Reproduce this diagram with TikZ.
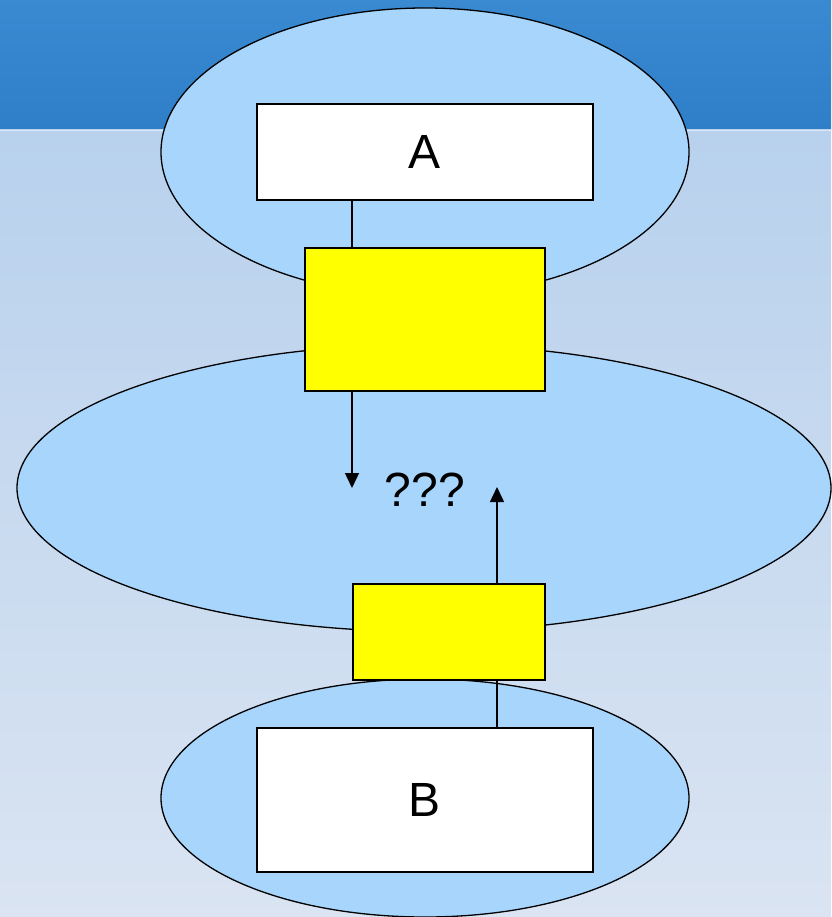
\documentclass[tikz,border=0pt]{standalone}
\usepackage{fontspec}
\setmainfont{Liberation Sans}
\usetikzlibrary{shapes.geometric,arrows.meta}
\definecolor{bandtop}{RGB}{58,138,210}
\definecolor{bandbot}{RGB}{46,127,200}
\definecolor{bgtop}{RGB}{184,209,237}
\definecolor{bgbot}{RGB}{218,228,242}
\definecolor{ellfill}{RGB}{168,213,252}
\definecolor{ylw}{RGB}{255,255,0}
\tikzset{
  ell/.style={ellipse, draw=black, line width=1.3pt, fill=ellfill, inner sep=0pt},
  whitebox/.style={rectangle, draw=black, line width=1.3pt, fill=white, inner sep=0pt, minimum width=336pt, font=\fontsize{48}{48}\selectfont},
  yellowbox/.style={rectangle, draw=black, line width=1.3pt, fill=ylw, inner sep=0pt},
  conn/.style={line width=1.3pt, draw=black},
  arr/.style={conn, -{Triangle[length=15pt,width=14pt]}},
}
\begin{document}
\begin{tikzpicture}[x=1pt,y=-1pt]
\useasboundingbox (0,0) rectangle (831,917);
\shade[top color=bandtop, bottom color=bandbot] (0,0) rectangle (831,130);
\shade[top color=bgtop, bottom color=bgbot] (0,130) rectangle (831,917);
\draw[white!50!bgtop, line width=1pt] (0,130.5) -- (831,130.5);
% ellipses
\node[ell, minimum width=528pt, minimum height=288pt] (E1) at (425,152) {};
\node[ell, minimum width=814pt, minimum height=287pt] (E2) at (424,488) {};
\node[ell, minimum width=528pt, minimum height=238pt] (E3) at (425,798) {};
% boxes
\node[whitebox, minimum height=96pt] (A) at (425,152) {A};
\node[whitebox, minimum height=144pt] (B) at (425,800) {B};
\node[yellowbox, minimum width=240pt, minimum height=143pt] (Y1) at (425,319.5) {};
\node[yellowbox, minimum width=192pt, minimum height=96pt] (Y2) at (449,632) {};
\node[font=\fontsize{48}{48}\selectfont] (Q) at (425,490) {???};
\coordinate (d1) at (352,488);
\coordinate (u1) at (497,487);
% connectors
\draw[conn] ([xshift=-73pt]A.south) -- ([xshift=-73pt]Y1.north);
\draw[arr] ([xshift=-73pt]Y1.south) -- (d1);
\draw[arr] ([xshift=48pt]Y2.north) -- (u1);
\draw[conn] ([xshift=72pt]B.north) -- ([xshift=48pt]Y2.south);
\end{tikzpicture}
\end{document}
